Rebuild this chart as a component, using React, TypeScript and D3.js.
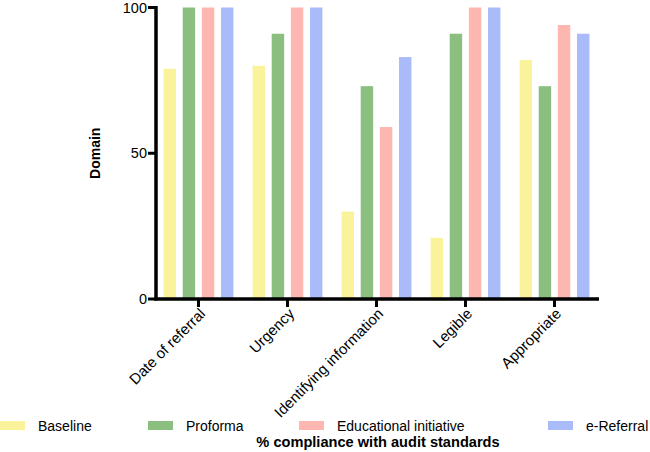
import { scaleBand, scaleLinear } from "d3";

const categories = ["Date of referral", "Urgency", "Identifying information", "Legible", "Appropriate"];
const seriesNames = ["Baseline", "Proforma", "Educational initiative", "e-Referral"];
const baseline = [79, 80, 30, 21, 82];
const proforma = [100, 91, 73, 91, 73];
const educational = [100, 100, 59, 100, 94];
const eReferral = [100, 100, 83, 100, 91];
const yTicks = [0, 50, 100];
const colors = ["#faf39b", "#8bbf7f", "#fdb7b0", "#a9bbf9"];

const seriesValues = [baseline, proforma, educational, eReferral];

export default function App() {
    const width = 650;
    const height = 452;
    const x0 = 156;
    const x1 = 599;
    const yTop = 7.5;
    const yBottom = 299;

    const x = scaleBand<string>().domain(categories).range([x0 - 2, x1]);
    const xSub = scaleBand<string>()
        .domain(seriesNames)
        .range([0, x.bandwidth()])
        .paddingInner(0.35)
        .paddingOuter(0.5);
    const y = scaleLinear().domain([0, 100]).range([yBottom, yTop]);

    const font = "'Liberation Sans', Arial, sans-serif";
    const legendX = [0, 148, 299, 548];

    return (
        <div>
            <style>{`body{margin:0}`}</style>
            <svg width={width} height={height} style={{ display: "block" }} fontFamily={font}>
                {seriesValues.map((vals, si) => (
                    <g key={si} fill={colors[si]}>
                        {vals.map((v, ci) => (
                            <rect
                                key={ci}
                                x={(x(categories[ci]) ?? 0) + (xSub(seriesNames[si]) ?? 0)}
                                y={y(v)}
                                width={xSub.bandwidth()}
                                height={y(0) - y(v)}
                            />
                        ))}
                    </g>
                ))}

                {/* y axis */}
                <line x1={x0} x2={x0} y1={y(100) - 1.5} y2={y(0) + 1.5} stroke="#000" strokeWidth={3.5} />
                {yTicks.map((t) => (
                    <g key={t}>
                        <line x1={x0 - 8} x2={x0} y1={y(t)} y2={y(t)} stroke="#000" strokeWidth={3} />
                        <text x={x0 - 9} y={y(t)} dy="0.35em" textAnchor="end" fontSize={14.5}>
                            {t}
                        </text>
                    </g>
                ))}
                <text
                    transform={`translate(${95},${(yTop + yBottom) / 2}) rotate(-90)`}
                    textAnchor="middle"
                    dy="0.35em"
                    fontSize={14}
                    fontWeight="bold"
                >
                    Domain
                </text>

                {/* x axis */}
                <line x1={x0 - 1.5} x2={x1} y1={yBottom} y2={yBottom} stroke="#000" strokeWidth={3.5} />
                {categories.map((c) => {
                    const cx = (x(c) ?? 0) + x.bandwidth() / 2;
                    return (
                        <g key={c}>
                            <line x1={cx} x2={cx} y1={yBottom} y2={yBottom + 8} stroke="#000" strokeWidth={3} />
                            <text
                                transform={`translate(${cx + 4},${yBottom + 12}) rotate(-45)`}
                                textAnchor="end"
                                dy="0.35em"
                                fontSize={15}
                            >
                                {c}
                            </text>
                        </g>
                    );
                })}

                {/* legend */}
                {seriesNames.map((s, i) => (
                    <g key={s}>
                        <rect x={legendX[i]} y={421} width={25} height={9} fill={colors[i]} />
                        <text x={legendX[i] + 38} y={430.5} fontSize={14}>
                            {s}
                        </text>
                    </g>
                ))}
                <text x={378} y={446.5} textAnchor="middle" fontSize={14.6} fontWeight="bold">
                    % compliance with audit standards
                </text>
            </svg>
        </div>
    );
}
